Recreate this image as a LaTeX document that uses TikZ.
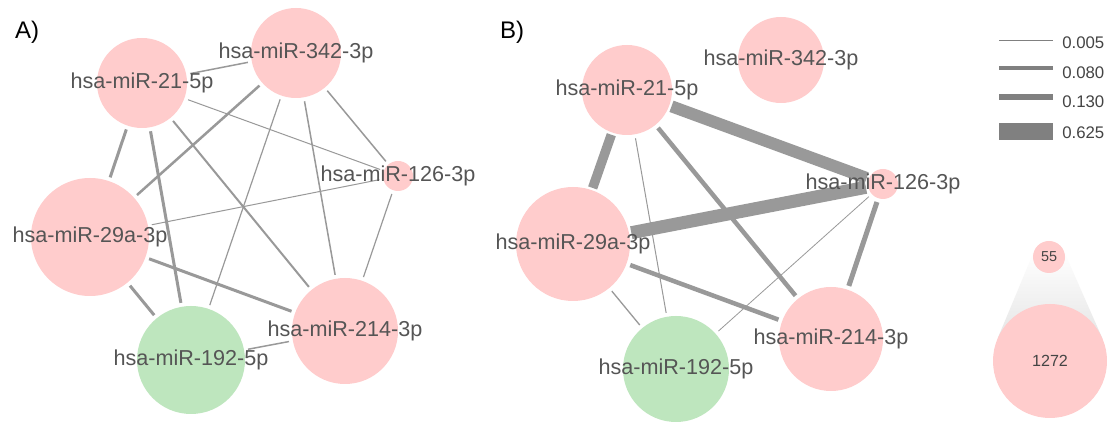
\documentclass[tikz,border=0pt]{standalone}
\usepackage{fontspec}
\setmainfont{Liberation Sans}
\usetikzlibrary{backgrounds}
\definecolor{pinkn}{RGB}{255,204,204}
\definecolor{greenn}{RGB}{190,230,190}
\definecolor{edgec}{RGB}{153,153,153}
\definecolor{legc}{RGB}{128,128,128}
\definecolor{labc}{RGB}{85,85,85}
\definecolor{numc}{RGB}{68,68,68}
\begin{document}
\begin{tikzpicture}[x=0.75pt,y=-0.75pt,
  mir/.style={circle, inner sep=0pt, outer sep=0pt, minimum size=#1*1.5pt},
  pinknode/.style={mir=#1, fill=pinkn},
  greennode/.style={mir=#1, fill=greenn},
  lab/.style={text=labc, inner sep=0pt, font=\fontsize{16.2}{18}\selectfont},
  ed/.style={draw=edgec, shorten >=3pt, shorten <=3pt, line width=#1*0.75pt},
  edb/.style={draw=edgec, shorten >=1.8pt, shorten <=1.8pt, line width=#1*0.75pt},
  leg/.style={draw=legc, line width=#1*0.75pt},
  legtxt/.style={text=numc, inner sep=0pt, anchor=west, font=\fontsize{12.6}{14}\selectfont},
  panel/.style={text=black, inner sep=0pt, font=\fontsize{18}{20}\selectfont}
]
\useasboundingbox (0,0) rectangle (1107,423);

% ---------- Panel A ----------
\node[panel] (lA) at (27,32) {A)};
\node[pinknode=45, label={[lab]center:hsa-miR-21-5p}] (a21) at (142,83) {};
\node[pinknode=45, label={[lab]center:hsa-miR-342-3p}] (a342) at (296,53) {};
\node[pinknode=15, label={[lab]center:hsa-miR-126-3p}] (a126) at (398,176) {};
\node[pinknode=59, label={[lab]center:hsa-miR-29a-3p}] (a29) at (90,237) {};
\node[greennode=54, label={[lab]center:hsa-miR-192-5p}] (a192) at (191,360) {};
\node[pinknode=53, label={[lab]center:hsa-miR-214-3p}] (a214) at (345,331) {};

% ---------- Panel B ----------
\node[panel] (lB) at (512,32) {B)};
\node[pinknode=43, label={[lab]center:hsa-miR-342-3p}] (b342) at (781,60) {};
\node[pinknode=45, label={[lab]center:hsa-miR-21-5p}] (b21) at (627,90) {};
\node[pinknode=15, label={[lab]center:hsa-miR-126-3p}] (b126) at (883,184) {};
\node[pinknode=57, label={[lab]center:hsa-miR-29a-3p}] (b29) at (573,244) {};
\node[greennode=53, label={[lab]center:hsa-miR-192-5p}] (b192) at (676,369) {};
\node[pinknode=52, label={[lab]center:hsa-miR-214-3p}] (b214) at (831,339) {};

\begin{scope}[on background layer]
\fill[white] (0,0) rectangle (1107,423);
% edges A
\draw[ed=1.5] (a21) -- (a342);
\draw[ed=1] (a21) -- (a126);
\draw[ed=3] (a21) -- (a29);
\draw[ed=3] (a21) -- (a192);
\draw[ed=2] (a21) -- (a214);
\draw[ed=2.5] (a342) -- (a29);
\draw[ed=1.2] (a342) -- (a192);
\draw[ed=1.5] (a342) -- (a214);
\draw[ed=1.5] (a342) -- (a126);
\draw[ed=1] (a126) -- (a29);
\draw[ed=1.2] (a126) -- (a214);
\draw[ed=3] (a29) -- (a192);
\draw[ed=3] (a29) -- (a214);
\draw[ed=1.5] (a192) -- (a214);
% edges B
\draw[edb=12] (b21) -- (b126);
\draw[edb=9.5] (b21) -- (b29);
\draw[edb=13] (b29) -- (b126);
\draw[ed=1] (b21) -- (b192);
\draw[ed=4.5] (b21) -- (b214);
\draw[ed=4.5] (b29) -- (b214);
\draw[ed=1.3] (b29) -- (b192);
\draw[ed=5] (b126) -- (b214);
\draw[ed=0.8] (b126) -- (b192);
\end{scope}

% ---------- Edge width legend ----------
\coordinate (l1a) at (999,41);  \coordinate (l1b) at (1053,41);
\coordinate (l2a) at (999,68);  \coordinate (l2b) at (1053,68);
\coordinate (l3a) at (999,97);  \coordinate (l3b) at (1053,97);
\coordinate (l4a) at (999,132); \coordinate (l4b) at (1053,132);
\draw[leg=1] (l1a) -- (l1b);
\draw[leg=4.5] (l2a) -- (l2b);
\draw[leg=6] (l3a) -- (l3b);
\draw[leg=17] (l4a) -- (l4b);
\node[legtxt] (t1) at (1062,43) {0.005};
\node[legtxt] (t2) at (1062,73) {0.080};
\node[legtxt] (t3) at (1062,102) {0.130};
\node[legtxt] (t4) at (1062,133) {0.625};

% ---------- Node size legend ----------
\shade[top color=white, bottom color=black!10]
  (1034.3,250.7) -- (1063.7,250.7) -- (1102.4,338.5) -- (997.6,338.5) -- cycle;
\node[pinknode=16, text=numc, font=\fontsize{10.8}{12}\selectfont] (s55) at (1049,257) {55};
\node[pinknode=57, text=numc, font=\fontsize{12.1}{14}\selectfont] (s1272) at (1050,361) {1272};
\end{tikzpicture}
\end{document}
